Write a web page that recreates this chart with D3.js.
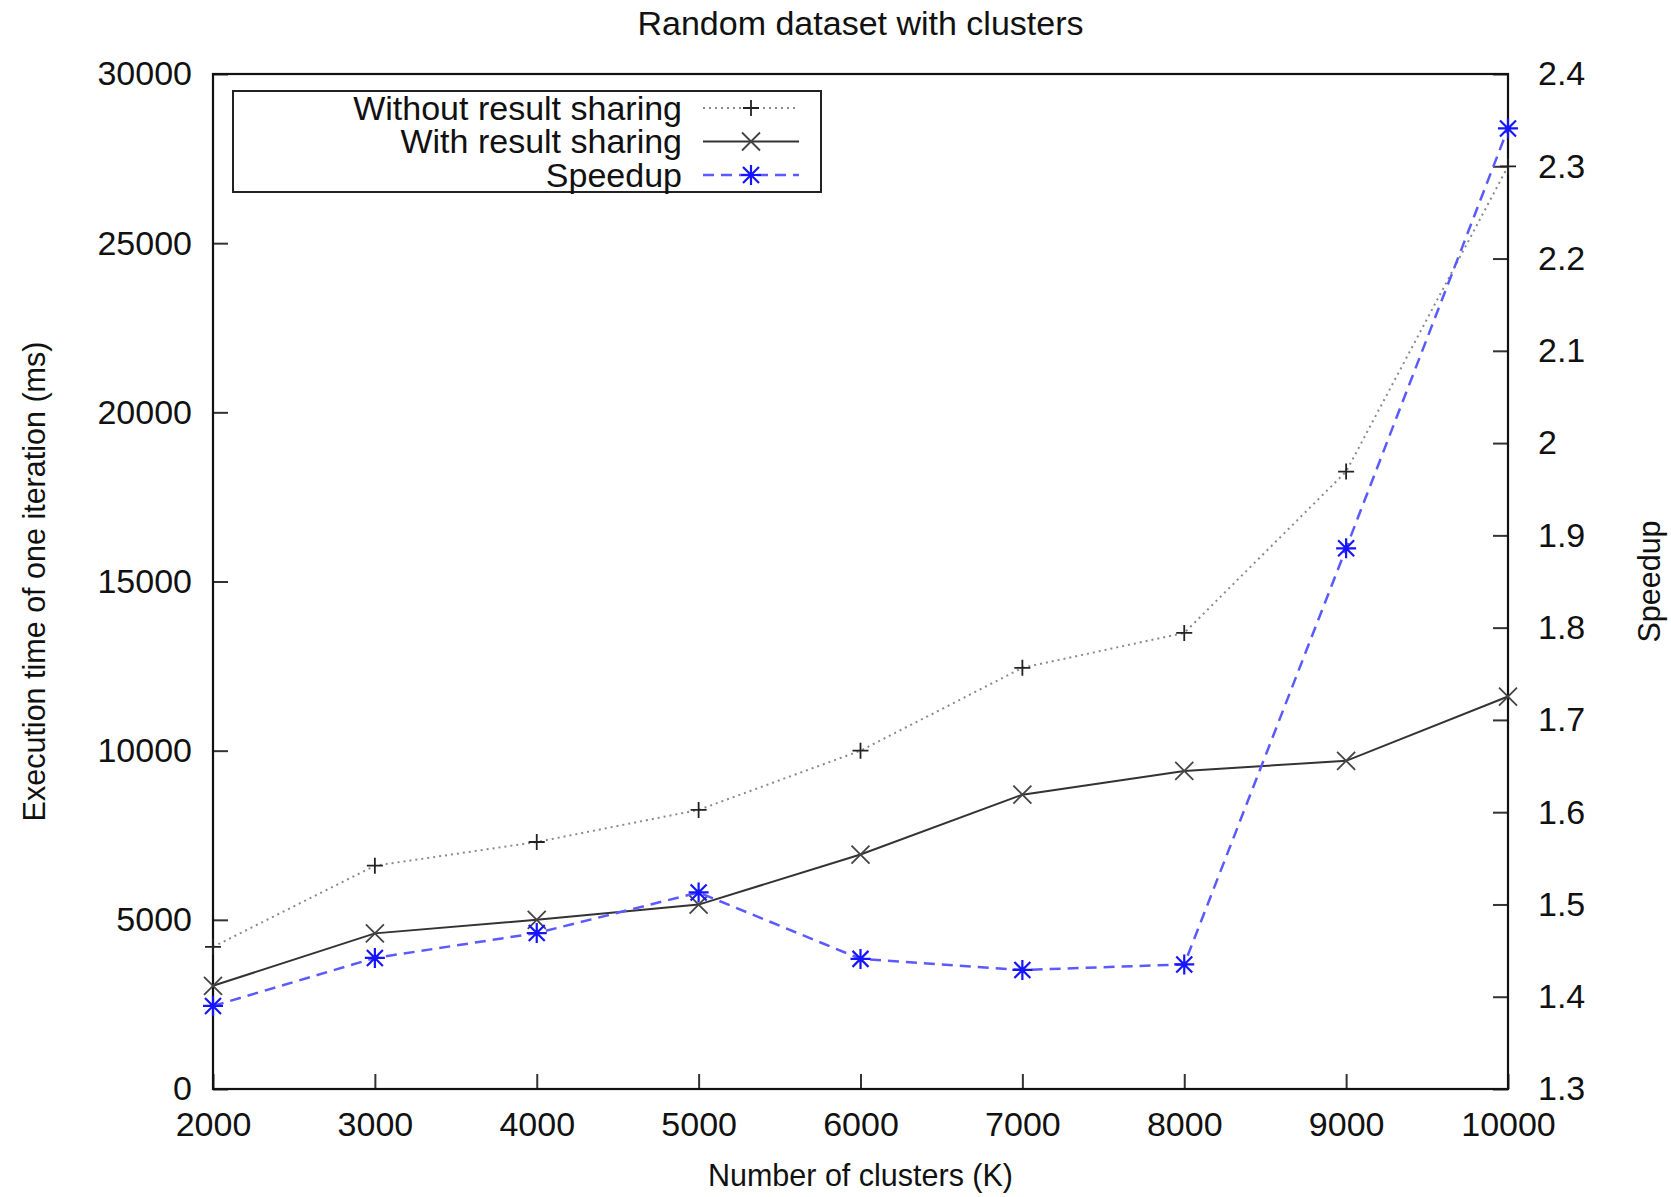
<!DOCTYPE html>
<html>
<head>
<meta charset="utf-8">
<script src="https://cdnjs.cloudflare.com/ajax/libs/d3/7.8.5/d3.min.js"></script>
<style>
  body { margin: 0; background: #fff; }
  text { font-family: "Liberation Sans", Arial, Helvetica, sans-serif; fill: #111; }
</style>
</head>
<body>
<div id="chart"></div>
<script>
// Data:
var clusters = [2000, 3000, 4000, 5000, 6000, 7000, 8000, 9000, 10000];
var withoutSharing = [4200, 6600, 7300, 8250, 10000, 12450, 13480, 18250, 27270];
var withSharing = [3050, 4600, 5000, 5450, 6930, 8700, 9400, 9700, 11600];
var speedup = [1.39, 1.442, 1.469, 1.513, 1.441, 1.429, 1.435, 1.886, 2.341];

var timeTicks = [0, 5000, 10000, 15000, 20000, 25000, 30000];
var speedupTicks = [1.3, 1.4, 1.5, 1.6, 1.7, 1.8, 1.9, 2, 2.1, 2.2, 2.3, 2.4];

var seriesNames = ["Without result sharing", "With result sharing", "Speedup"];

// Constants:
var W = 1671, H = 1197;
var margin = { top: 74, right: 163, bottom: 108, left: 213 };
var width = W - margin.left - margin.right,
  height = H - margin.top - margin.bottom,
  tickLen = 15,
  bigFont = "34px";

var svg = d3.select("#chart").append("svg")
  .attr("width", W)
  .attr("height", H);

var g = svg.append("g")
  .attr("transform", "translate(" + margin.left + "," + margin.top + ")");

var x = d3.scaleLinear().domain([2000, 10000]).range([0, width]);
var y = d3.scaleLinear().domain([0, 30000]).range([height, 0]);
var y2 = d3.scaleLinear().domain([1.3, 2.4]).range([height, 0]);

// Axes, ticks pointing inwards
var xAxis = g.append("g")
  .attr("transform", "translate(0," + height + ")")
  .call(d3.axisBottom(x).tickValues(clusters).tickFormat(d3.format("d"))
    .tickSizeInner(-tickLen).tickSizeOuter(0).tickPadding(23));

var yAxis = g.append("g")
  .call(d3.axisLeft(y).tickValues(timeTicks).tickFormat(d3.format("d"))
    .tickSizeInner(-tickLen).tickSizeOuter(0).tickPadding(21));

var y2Axis = g.append("g")
  .attr("transform", "translate(" + width + ",0)")
  .call(d3.axisRight(y2).tickValues(speedupTicks).tickFormat(d3.format("~g"))
    .tickSizeInner(-tickLen).tickSizeOuter(0).tickPadding(30));

[xAxis, yAxis, y2Axis].forEach(function(a) {
  a.select(".domain").remove();
  a.selectAll(".tick line").attr("stroke", "#333").attr("stroke-width", 2);
  a.selectAll(".tick text").style("font-size", bigFont).attr("fill", "#111");
});

// Frame round the plot
g.append("rect")
  .attr("width", width).attr("height", height)
  .attr("fill", "none").attr("stroke", "#111").attr("stroke-width", 2.2);

// Marker shapes (gnuplot-like)
function plusPath(s) { return "M" + (-s) + ",0H" + s + "M0," + (-s) + "V" + s; }
function crossPath(s) { return "M" + (-s) + "," + (-s) + "L" + s + "," + s + "M" + (-s) + "," + s + "L" + s + "," + (-s); }
function starPath(s) { return plusPath(s) + crossPath(s * 0.8); }

var styles = [
  { values: withoutSharing, scale: y, stroke: "#8a8a8a", width: 2, dash: "2,4",
    marker: plusPath(8), mColor: "#222", mWidth: 1.8 },
  { values: withSharing, scale: y, stroke: "#333", width: 2, dash: null,
    marker: crossPath(9), mColor: "#444", mWidth: 1.8 },
  { values: speedup, scale: y2, stroke: "#5a5aff", width: 2.5, dash: "11,7",
    marker: starPath(10), mColor: "#1515ff", mWidth: 2.2 }
];

var line = d3.line();

styles.forEach(function(s) {
  var pts = clusters.map(function(c, i) { return [x(c), s.scale(s.values[i])]; });
  g.append("path")
    .attr("d", line(pts))
    .attr("fill", "none")
    .attr("stroke", s.stroke)
    .attr("stroke-width", s.width)
    .attr("stroke-dasharray", s.dash);
  g.selectAll(null)
    .data(pts)
    .enter()
    .append("path")
    .attr("d", s.marker)
    .attr("transform", function(d) { return "translate(" + d[0] + "," + d[1] + ")"; })
    .attr("stroke", s.mColor)
    .attr("stroke-width", s.mWidth)
    .attr("fill", "none");
});

// Legend
var legend = svg.append("g");
legend.append("rect")
  .attr("x", 233).attr("y", 91).attr("width", 588).attr("height", 101)
  .attr("fill", "#fff").attr("stroke", "#222").attr("stroke-width", 2);

var rows = legend.selectAll("g.row")
  .data(seriesNames)
  .enter()
  .append("g")
  .attr("class", "row")
  .attr("transform", function(d, i) { return "translate(0," + (108 + i * 33.5) + ")"; });

rows.append("text")
  .attr("x", 682)
  .attr("dy", "0.35em")
  .attr("text-anchor", "end")
  .style("font-size", bigFont)
  .text(function(d) { return d; });

rows.append("line")
  .attr("x1", 703).attr("x2", 799)
  .attr("stroke", function(d, i) { return styles[i].stroke; })
  .attr("stroke-width", function(d, i) { return styles[i].width; })
  .attr("stroke-dasharray", function(d, i) { return styles[i].dash; });

rows.append("path")
  .attr("d", function(d, i) { return styles[i].marker; })
  .attr("transform", "translate(751,0)")
  .attr("stroke", function(d, i) { return styles[i].mColor; })
  .attr("stroke-width", function(d, i) { return styles[i].mWidth; })
  .attr("fill", "none");

// Titles
svg.append("text")
  .attr("x", margin.left + width / 2).attr("y", 23)
  .attr("dy", "0.35em").attr("text-anchor", "middle")
  .style("font-size", bigFont)
  .text("Random dataset with clusters");

svg.append("text")
  .attr("x", margin.left + width / 2).attr("y", 1175)
  .attr("dy", "0.35em").attr("text-anchor", "middle")
  .style("font-size", "30.5px")
  .text("Number of clusters (K)");

svg.append("text")
  .attr("transform", "translate(34," + (margin.top + height / 2) + ") rotate(-90)")
  .attr("dy", "0.35em").attr("text-anchor", "middle")
  .style("font-size", "30.5px")
  .text("Execution time of one iteration (ms)");

svg.append("text")
  .attr("transform", "translate(1649," + (margin.top + height / 2) + ") rotate(-90)")
  .attr("dy", "0.35em").attr("text-anchor", "middle")
  .style("font-size", "30.5px")
  .text("Speedup");
</script>
</body>
</html>
